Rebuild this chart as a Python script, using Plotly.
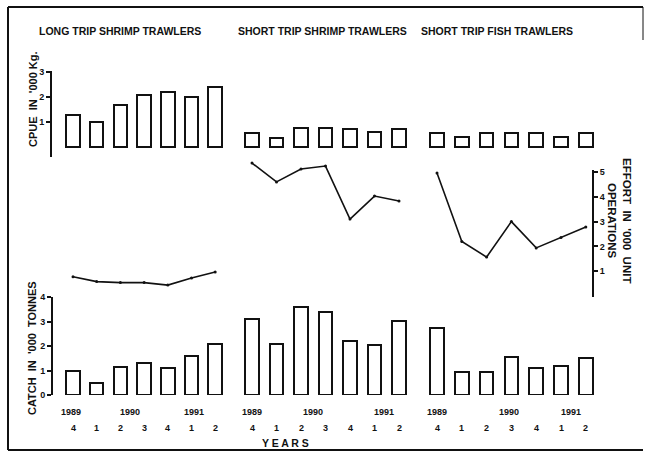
import plotly.graph_objects as go

# ---------------- data ----------------
quarters = ["4", "1", "2", "3", "4", "1", "2"]
periods = ["1989 Q4", "1990 Q1", "1990 Q2", "1990 Q3", "1990 Q4", "1991 Q1", "1991 Q2"]
group_titles = ["LONG TRIP SHRIMP TRAWLERS", "SHORT TRIP SHRIMP TRAWLERS", "SHORT TRIP FISH TRAWLERS"]
year_labels = ["1989", "1990", "1991"]

cpue_long = [1.28, 1.00, 1.68, 2.08, 2.20, 2.00, 2.40]
cpue_short_shrimp = [0.57, 0.37, 0.75, 0.78, 0.74, 0.60, 0.74]
cpue_short_fish = [0.56, 0.40, 0.56, 0.56, 0.56, 0.40, 0.56]

effort_long = [0.78, 0.58, 0.54, 0.54, 0.44, 0.73, 0.97]
effort_short_shrimp = [5.36, 4.60, 5.12, 5.24, 3.10, 4.03, 3.83]
effort_short_fish = [4.96, 2.20, 1.57, 3.00, 1.94, 2.36, 2.78]

catch_long = [0.97, 0.49, 1.13, 1.30, 1.09, 1.58, 2.10]
catch_short_shrimp = [3.12, 2.10, 3.60, 3.40, 2.22, 2.06, 3.04]
catch_short_fish = [2.75, 0.93, 0.93, 1.54, 1.09, 1.17, 1.50]

cpue = [cpue_long, cpue_short_shrimp, cpue_short_fish]
effort = [effort_long, effort_short_shrimp, effort_short_fish]
catch = [catch_long, catch_short_shrimp, catch_short_fish]

# ---------------- layout helpers (pixels -> paper) ----------------
W, H = 645, 453
def PX(x):
    return x / W
def PY(y):
    return 1 - y / H

# each group has its own x scale: start pixel, step pixel
group_start = [73, 252, 437]
group_step = [23.7, 24.5, 24.8]
year_pos = [[-0.1, 2.4, 5.1], [0.0, 2.5, 5.4], [0.0, 2.9, 5.4]]

FONT = "Liberation Sans"
BLACK = "#111111"
bar_px = 13.5

fig = go.Figure()
idx = list(range(len(periods)))
xnames = ["x", "x2", "x3"]

for g in range(3):
    xa = xnames[g]
    w = bar_px / group_step[g]
    fig.add_trace(go.Bar(x=idx, y=cpue[g], xaxis=xa, yaxis="y", width=w,
                         marker=dict(color="white", line=dict(color=BLACK, width=2)),
                         customdata=periods, name="CPUE " + group_titles[g], showlegend=False))
    fig.add_trace(go.Bar(x=idx, y=catch[g], xaxis=xa, yaxis="y3", width=w,
                         marker=dict(color="white", line=dict(color=BLACK, width=2)),
                         customdata=periods, name="Catch " + group_titles[g], showlegend=False))
    fig.add_trace(go.Scatter(x=idx, y=effort[g], xaxis=xa, yaxis="y2", mode="lines+markers",
                             line=dict(color=BLACK, width=1.6), marker=dict(color=BLACK, size=3),
                             customdata=periods, name="Effort " + group_titles[g], showlegend=False))

# invisible trace so the display effort axis is drawn
fig.add_trace(go.Scatter(x=[None], y=[None], xaxis="x", yaxis="y4", showlegend=False))

layout = dict(
    template="none",
    width=W, height=H, autosize=False,
    margin=dict(l=0, r=0, t=0, b=0, pad=0, autoexpand=False),
    paper_bgcolor="white", plot_bgcolor="rgba(0,0,0,0)",
    bargap=0, barmode="overlay",
    font=dict(family=FONT, color=BLACK),
)
for g in range(3):
    key = "xaxis" if g == 0 else "xaxis%d" % (g + 1)
    s, d = group_start[g], group_step[g]
    ax = dict(domain=[0, 1], range=[(0 - s) / d, (W - s) / d], visible=False,
              fixedrange=True, automargin=False)
    if g > 0:
        ax["overlaying"] = "x"
    layout[key] = ax

tickfont = dict(family=FONT, size=9, color=BLACK)
common_y = dict(showline=True, linewidth=2, linecolor=BLACK, showgrid=False, zeroline=False,
                ticks="outside", ticklen=4, tickwidth=1.5, tickcolor=BLACK, tickfont=tickfont,
                automargin=False, fixedrange=True)
# CPUE axis: value 0 at y=147 px, 25 px per unit
layout["yaxis"] = dict(domain=[PY(157), PY(71)], range=[(147 - 157) / 25, (147 - 71) / 25],
                       anchor="free", position=PX(51), side="left",
                       tickvals=[1, 2, 3], ticktext=["<b>1</b>", "<b>2</b>", "<b>3</b>"], **common_y)
# effort data axis (wider, invisible): value 0 at y=296 px, 24.8 px per unit
layout["yaxis2"] = dict(domain=[PY(300), PY(150)], range=[(296 - 300) / 24.8, (296 - 150) / 24.8],
                        anchor="free", position=0, visible=False, automargin=False, fixedrange=True)
# effort display axis
layout["yaxis4"] = dict(domain=[PY(297), PY(170)], range=[(296 - 297) / 24.8, (296 - 170) / 24.8],
                        anchor="free", position=PX(593), side="right",
                        tickvals=[1, 2, 3, 4, 5], ticktext=["<b>%d</b>" % v for v in [1, 2, 3, 4, 5]],
                        **common_y)
# catch axis: value 0 at y=395 px, 24.5 px per unit
layout["yaxis3"] = dict(domain=[PY(395), PY(297)], range=[0, 4],
                        anchor="free", position=PX(52), side="left",
                        tickvals=[0, 1, 2, 3, 4], ticktext=["<b>%d</b>" % v for v in range(5)],
                        **common_y)

def ann(text, x, y, xref="paper", size=10, angle=0):
    return dict(text=text, x=x, y=y, xref=xref, yref="paper", showarrow=False,
                xanchor="center", yanchor="middle", textangle=angle,
                font=dict(family=FONT, size=size, color=BLACK))

annotations = []
title_cx = [120, 322, 497]
for g in range(3):
    annotations.append(ann("<b>%s</b>" % group_titles[g], PX(title_cx[g]), PY(31), size=10.5))
    xa = xnames[g]
    for i, q in enumerate(quarters):
        annotations.append(ann("<b>%s</b>" % q, i, PY(428), xref=xa, size=9))
    for yl, p in zip(year_labels, year_pos[g]):
        annotations.append(ann("<b>%s</b>" % yl, p, PY(412), xref=xa, size=9))

annotations.append(ann("<b>Y E A R S</b>", PX(285), PY(443), size=10.5))
annotations.append(ann("<b>CPUE  IN  '000 Kg.</b>", PX(33), PY(99), size=11, angle=-90))
annotations.append(ann("<b>CATCH  IN  '000  TONNES</b>", PX(32), PY(348), size=11, angle=-90))
annotations.append(ann("<b>EFFORT  IN  '000  UNIT</b>", PX(627), PY(220), size=11.5, angle=90))
annotations.append(ann("<b>OPERATIONS</b>", PX(612), PY(221), size=11.5, angle=90))
layout["annotations"] = annotations

frame = dict(color=BLACK, width=2)
layout["shapes"] = [
    dict(type="line", xref="paper", yref="paper", x0=PX(8), x1=PX(643), y0=PY(7), y1=PY(7), line=frame),
    dict(type="line", xref="paper", yref="paper", x0=PX(8), x1=PX(8), y0=PY(7), y1=PY(450), line=frame),
    dict(type="line", xref="paper", yref="paper", x0=PX(8), x1=PX(643), y0=PY(450), y1=PY(450), line=frame),
    dict(type="line", xref="paper", yref="paper", x0=PX(643), x1=PX(643), y0=PY(7), y1=PY(40), line=dict(color=BLACK, width=1)),
]

fig.update_layout(**layout)
fig.write_html("out.html", config={"displayModeBar": False},
               post_script="document.body.style.margin='0';document.body.style.overflow='hidden';")
